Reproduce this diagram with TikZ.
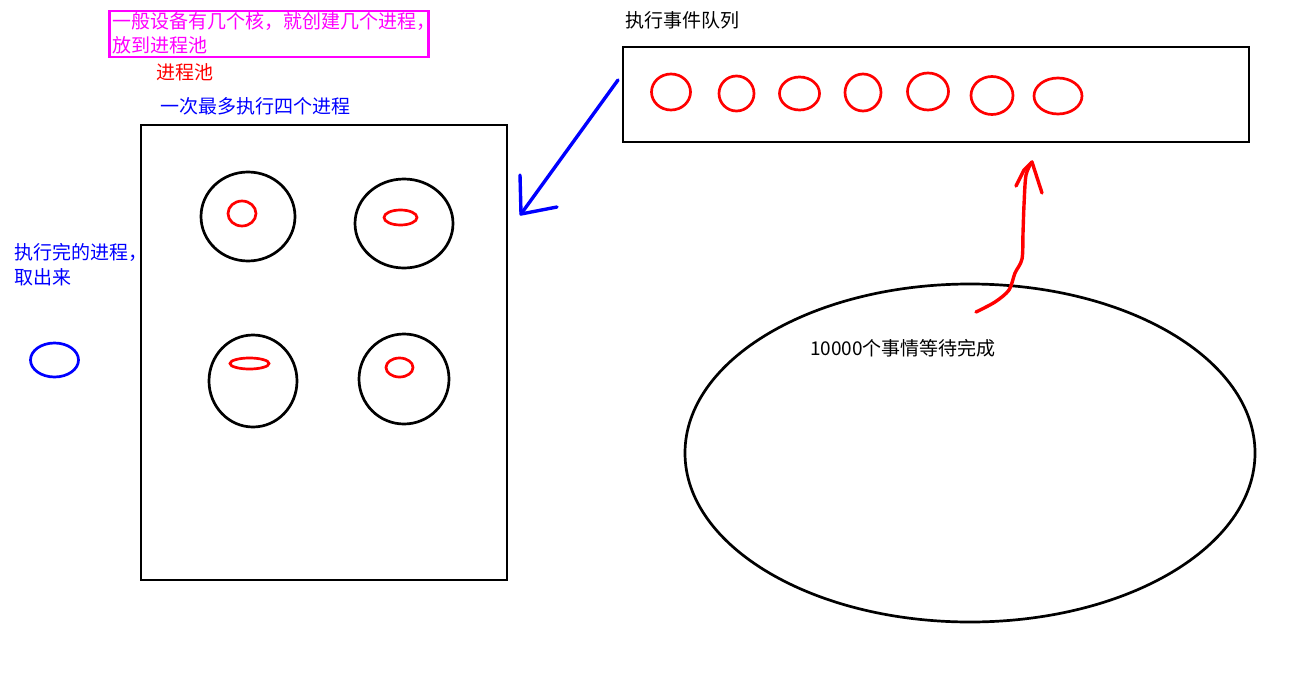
\documentclass[tikz,border=0pt]{standalone}
\usepackage{fontspec}
\newfontfamily\cjk{Noto Sans CJK SC}
\usetikzlibrary{shapes.geometric}
\definecolor{notemag}{RGB}{255,0,255}
\definecolor{hred}{RGB}{255,0,0}
\definecolor{hblue}{RGB}{0,0,255}
\begin{document}
\begin{tikzpicture}[x=1pt,y=-1pt,
  txt/.style={font=\cjk\fontsize{19}{22}\selectfont, inner sep=0pt, anchor=west},
  frame/.style={draw=black, line width=2.8pt, inner sep=0pt},
  core/.style={ellipse, draw=black, line width=2.7pt, inner sep=0pt},
  task/.style={ellipse, draw=hred, line width=2.7pt, inner sep=0pt},
  hand/.style={line width=3.4pt, line cap=round, line join=round},
]
\useasboundingbox[fill=white] (0,0) rectangle (1289,682);

% top-left note
\node[draw=notemag, line width=2.7pt, minimum width=319pt, minimum height=46pt, inner sep=0pt] (note) at (269,34) {};
\node[txt, text=notemag] (n1) at (112,21.5) {一般设备有几个核，就创建几个进程，};
\node[txt, text=notemag] (n2) at (112,45) {放到进程池};
\node[txt, text=hred] (pooltitle) at (156,72) {进程池};
\node[txt, text=hblue] (poolmax) at (160,106) {一次最多执行四个进程};

% process pool
\node[frame, minimum width=366pt, minimum height=455pt] (pool) at (324,352.5) {};
\node[core, minimum width=94pt, minimum height=89pt] (c1) at (248,216.5) {};
\node[core, minimum width=98pt, minimum height=89pt] (c2) at (404,223.5) {};
\node[core, minimum width=88pt, minimum height=92pt] (c3) at (253,381) {};
\node[core, minimum width=90pt, minimum height=90pt] (c4) at (404,379) {};
\node[task, minimum width=28pt, minimum height=25pt] (t1) at (242,213.5) {};
\node[task, minimum width=33pt, minimum height=15pt] (t2) at (400.5,217.5) {};
\node[task, minimum width=39pt, minimum height=11pt] (t3) at (249.5,363.5) {};
\node[task, minimum width=27pt, minimum height=19pt] (t4) at (399.5,367.5) {};

% finished process
\node[txt, text=hblue] (done1) at (14,252.5) {执行完的进程，};
\node[txt, text=hblue] (done2) at (14,277) {取出来};
\node[ellipse, draw=hblue, line width=2.7pt, inner sep=0pt, minimum width=48pt, minimum height=34pt] (doneproc) at (54.5,360) {};

% event queue
\node[txt] (qtitle) at (625,20.5) {执行事件队列};
\node[frame, minimum width=626pt, minimum height=95pt] (queue) at (936,94.5) {};
\node[task, minimum width=39pt, minimum height=36pt] (q1) at (671,92) {};
\node[task, minimum width=35pt, minimum height=35pt] (q2) at (736.5,93.5) {};
\node[task, minimum width=40pt, minimum height=33pt] (q3) at (799.5,93.5) {};
\node[task, minimum width=36pt, minimum height=37pt] (q4) at (863,92.5) {};
\node[task, minimum width=41pt, minimum height=37pt] (q5) at (928,91.5) {};
\node[task, minimum width=42pt, minimum height=38pt] (q6) at (992,95.5) {};
\node[task, minimum width=48pt, minimum height=36pt] (q7) at (1058,96) {};

% waiting events
\node[ellipse, draw=black, line width=2.7pt, inner sep=0pt, minimum width=570pt, minimum height=338pt] (events) at (970,453) {};
\node[txt] (evtext) at (810,348.5) {10000个事情等待完成};

% blue hand-drawn arrow: queue -> pool
\coordinate (ba0) at (618,80);
\coordinate (ba1) at (521,214);
\coordinate (bb1) at (520,175);
\coordinate (bb2) at (557,207);
\draw[hand, hblue] (ba0) -- (ba1);
\draw[hand, hblue] (bb1) -- (ba1) -- (bb2);

% red hand-drawn arrow: events -> queue
\coordinate (ra0) at (976,312);
\coordinate (ra1) at (1032,162);
\coordinate (rb1) at (1016,186);
\coordinate (rb2) at (1042,193);
\draw[hand, hred] plot[smooth, tension=0.5] coordinates {(ra0) (995,302) (1009,290) (1015,273) (1022,259) (1023,233) (1024,205) (1026,175) (ra1)};
\draw[hand, hred] (rb1) -- (1024,170) -- (ra1) -- (rb2);
\end{tikzpicture}
\end{document}
